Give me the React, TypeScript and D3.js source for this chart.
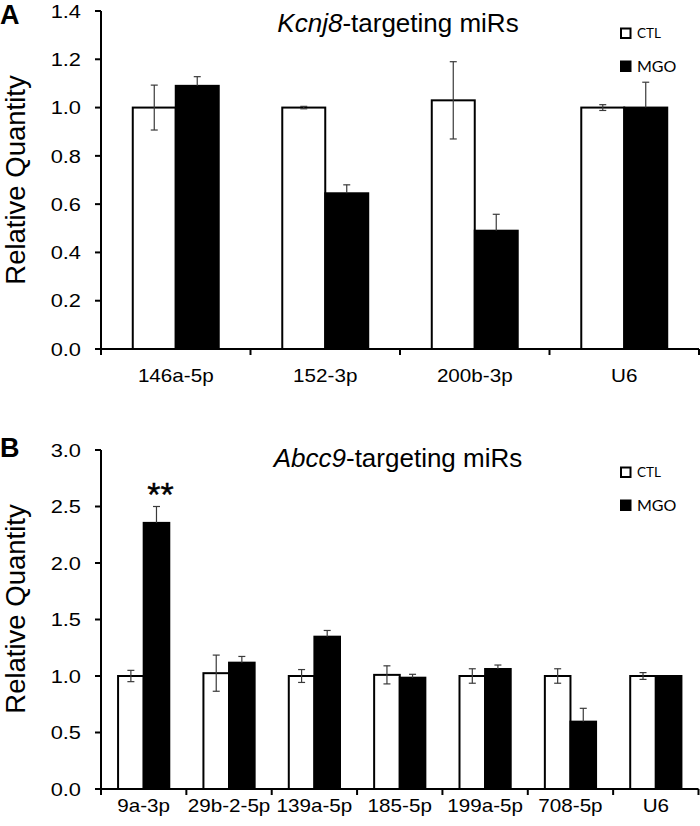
import React from "react";
import * as d3 from "d3";

const seriesNames = ["CTL", "MGO"];

const catsA = ["146a-5p", "152-3p", "200b-3p", "U6"];
const ctlA = [1.0, 1.0, 1.03, 1.0];
const ctlErrA = [0.093, 0.005, 0.16, 0.012];
const mgoA = [1.09, 0.645, 0.49, 1.0];
const mgoErrA = [0.038, 0.035, 0.068, 0.105];
const ticksA = [0, 0.2, 0.4, 0.6, 0.8, 1.0, 1.2, 1.4];

const catsB = ["9a-3p", "29b-2-5p", "139a-5p", "185-5p", "199a-5p", "708-5p", "U6"];
const ctlB = [1.0, 1.025, 1.0, 1.01, 1.0, 1.0, 1.0];
const ctlErrB = [0.05, 0.16, 0.057, 0.08, 0.064, 0.064, 0.03];
const mgoB = [2.355, 1.118, 1.348, 0.985, 1.062, 0.596, 1.0];
const mgoErrB = [0.145, 0.055, 0.055, 0.03, 0.035, 0.118, 0.0];
const sigB = ["**", "", "", "", "", "", ""];
const ticksB = [0, 0.5, 1.0, 1.5, 2.0, 2.5, 3.0];

const ARIAL = "'Liberation Sans', Arial, sans-serif";
const LEG = "Lato, 'Open Sans', sans-serif";

type PanelProps = {
  letter: string;
  italic: string;
  titleRest: string;
  cats: string[];
  ctl: number[];
  ctlErr: number[];
  mgo: number[];
  mgoErr: number[];
  sig?: string[];
  ticks: number[];
  yMax: number;
  yTop: number;
  yBottom: number;
  xLeft: number;
  xRight: number;
  groupFrac: number;
  titleY: number;
  letterY: number;
  xLabelY: number;
  yLabelCenter: number;
};

function Panel(p: PanelProps) {
  const y = d3.scaleLinear().domain([0, p.yMax]).range([p.yBottom, p.yTop]);
  const x = d3.scaleBand<string>().domain(p.cats).range([p.xLeft, p.xRight]).padding(0);
  const bw = x.bandwidth();
  const inner = d3
    .scaleBand<string>()
    .domain(seriesNames)
    .range([bw * (1 - p.groupFrac) / 2, bw * (1 + p.groupFrac) / 2])
    .padding(0);
  const barW = inner.bandwidth();
  const cap = 3.5;
  const errColor = "#3a3a3a";
  const boundaries = [...p.cats.map((c) => x(c)!), p.xRight];

  return (
    <g>
      <text x={0} y={p.letterY} fontFamily={ARIAL} fontWeight="bold" fontSize={27}>
        {p.letter}
      </text>
      <text x={398} y={p.titleY} fontFamily={ARIAL} fontSize={26} textAnchor="middle">
        <tspan fontStyle="italic">{p.italic}</tspan>
        {p.titleRest}
      </text>
      <text
        transform={`translate(25,${p.yLabelCenter}) rotate(-90)`}
        fontFamily={ARIAL}
        fontSize={27.5}
        textAnchor="middle"
      >
        Relative Quantity
      </text>
      {p.cats.map((c, i) => {
        const x0 = x(c)!;
        const xc = x0 + inner("CTL")!;
        const xm = x0 + inner("MGO")!;
        return (
          <g key={c}>
            <rect
              x={xc}
              y={y(p.ctl[i])}
              width={barW}
              height={y(0) - y(p.ctl[i])}
              fill="#fff"
              stroke="#000"
              strokeWidth={2}
            />
            <rect
              x={xm}
              y={y(p.mgo[i])}
              width={barW}
              height={y(0) - y(p.mgo[i])}
              fill="#000"
              stroke="#000"
              strokeWidth={2}
            />
            {p.ctlErr[i] > 0 && (
              <g stroke={errColor} strokeWidth={1.2}>
                <line x1={xc + barW / 2} x2={xc + barW / 2} y1={y(p.ctl[i] - p.ctlErr[i])} y2={y(p.ctl[i] + p.ctlErr[i])} />
                <line x1={xc + barW / 2 - cap} x2={xc + barW / 2 + cap} y1={y(p.ctl[i] + p.ctlErr[i])} y2={y(p.ctl[i] + p.ctlErr[i])} />
                <line x1={xc + barW / 2 - cap} x2={xc + barW / 2 + cap} y1={y(p.ctl[i] - p.ctlErr[i])} y2={y(p.ctl[i] - p.ctlErr[i])} />
              </g>
            )}
            {p.mgoErr[i] > 0 && (
              <g stroke={errColor} strokeWidth={1.2}>
                <line x1={xm + barW / 2} x2={xm + barW / 2} y1={y(p.mgo[i])} y2={y(p.mgo[i] + p.mgoErr[i])} />
                <line x1={xm + barW / 2 - cap} x2={xm + barW / 2 + cap} y1={y(p.mgo[i] + p.mgoErr[i])} y2={y(p.mgo[i] + p.mgoErr[i])} />
              </g>
            )}
            {p.sig && p.sig[i] && (
              <text
                x={xm + barW / 2 + 4}
                y={y(p.mgo[i] + p.mgoErr[i]) - 1}
                fontFamily={ARIAL}
                fontSize={34}
                textAnchor="middle"
                stroke="#000"
                strokeWidth={0.4}
              >
                {p.sig[i]}
              </text>
            )}
          </g>
        );
      })}
      <line x1={p.xLeft} x2={p.xLeft} y1={p.yTop} y2={p.yBottom + 6} stroke="#000" strokeWidth={2} />
      <line x1={p.xLeft - 6} x2={p.xRight} y1={p.yBottom} y2={p.yBottom} stroke="#000" strokeWidth={2} />
      {p.ticks.map((t) => (
        <g key={t}>
          <line x1={p.xLeft - 6} x2={p.xLeft} y1={y(t)} y2={y(t)} stroke="#000" strokeWidth={2} />
          <g transform={`translate(81,${y(t)}) scale(1.18,1)`}>
            <text x={0} y={0} dy="0.36em" fontFamily={ARIAL} fontSize={18.5} textAnchor="end">
              {d3.format(".1f")(t)}
            </text>
          </g>
        </g>
      ))}
      {boundaries.map((b, i) => (
        <line key={i} x1={b} x2={b} y1={p.yBottom} y2={p.yBottom + 6} stroke="#000" strokeWidth={2} />
      ))}
      {p.cats.map((c) => (
        <g key={c} transform={`translate(${x(c)! + bw / 2},${p.xLabelY}) scale(1.18,1)`}>
          <text x={0} y={0} fontFamily={ARIAL} fontSize={17.5} textAnchor="middle">
            {c}
          </text>
        </g>
      ))}
      <rect x={621} y={p.yTop + 17.5} width={9.5} height={9.5} fill="#fff" stroke="#000" strokeWidth={2} />
      <text x={637} y={p.yTop + 27} fontFamily={LEG} fontSize={13.5}>
        CTL
      </text>
      <rect x={620} y={p.yTop + 49.5} width={11.5} height={11.5} fill="#000" />
      <text x={637} y={p.yTop + 61} fontFamily={LEG} fontSize={16}>
        MGO
      </text>
    </g>
  );
}

export default function App() {
  return (
    <svg
      width={700}
      height={826}
      style={{ position: "absolute", left: 0, top: 0, background: "#fff" }}
    >
      <rect x={0} y={0} width={700} height={826} fill="#fff" />
      <Panel
        letter="A"
        italic="Kcnj8"
        titleRest="-targeting miRs"
        cats={catsA}
        ctl={ctlA}
        ctlErr={ctlErrA}
        mgo={mgoA}
        mgoErr={mgoErrA}
        ticks={ticksA}
        yMax={1.4}
        yTop={11}
        yBottom={349}
        xLeft={101}
        xRight={699}
        groupFrac={0.575}
        titleY={32}
        letterY={24}
        xLabelY={382}
        yLabelCenter={180}
      />
      <Panel
        letter="B"
        italic="Abcc9"
        titleRest="-targeting miRs"
        cats={catsB}
        ctl={ctlB}
        ctlErr={ctlErrB}
        mgo={mgoB}
        mgoErr={mgoErrB}
        sig={sigB}
        ticks={ticksB}
        yMax={3.0}
        yTop={450}
        yBottom={789}
        xLeft={101}
        xRight={698.5}
        groupFrac={0.6}
        titleY={467}
        letterY={457}
        xLabelY={812}
        yLabelCenter={609}
      />
    </svg>
  );
}
